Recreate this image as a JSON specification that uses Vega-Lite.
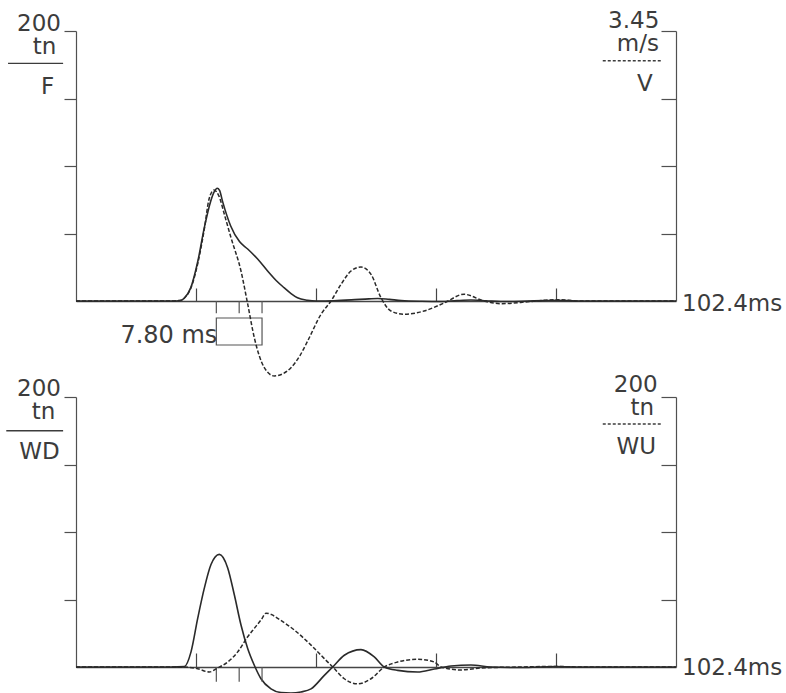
{
  "$schema": "https://vega.github.io/schema/vega-lite/v6.json",
  "background": "white",
  "padding": {"left": 5, "top": 10, "right": 0, "bottom": 0},
  "config": {"view": {"stroke": null}, "font": "DejaVu Sans"},
  "datasets": {
    "force": [
      {"t": 0, "F": 0}, {"t": 16.2, "F": 0}, {"t": 17.9, "F": 0.4}, {"t": 18.5, "F": 2.2}, {"t": 19.6, "F": 9.9},
      {"t": 20.8, "F": 29.6}, {"t": 21.9, "F": 54.3}, {"t": 23.0, "F": 74.1}, {"t": 23.6, "F": 81}, {"t": 24.1, "F": 83.5},
      {"t": 24.5, "F": 82}, {"t": 25.0, "F": 74}, {"t": 26.4, "F": 55.6}, {"t": 27.9, "F": 44}, {"t": 29.3, "F": 38.5},
      {"t": 31.0, "F": 31.1}, {"t": 32.7, "F": 22.2}, {"t": 34.2, "F": 15}, {"t": 35.5, "F": 9.9}, {"t": 36.7, "F": 5.5},
      {"t": 37.8, "F": 2.4}, {"t": 39.5, "F": 0.6}, {"t": 41, "F": 0}, {"t": 44, "F": 0.2}, {"t": 47, "F": 0.8},
      {"t": 50, "F": 1.6}, {"t": 51.5, "F": 1.9}, {"t": 53.5, "F": 1.2}, {"t": 55.5, "F": 0.4}, {"t": 59, "F": -0.2},
      {"t": 62.3, "F": -0.4}, {"t": 65, "F": 0.3}, {"t": 67.4, "F": 0.7}, {"t": 70, "F": 0.2}, {"t": 72.5, "F": -0.4},
      {"t": 76, "F": -0.2}, {"t": 80, "F": 0.3}, {"t": 82, "F": 0.5}, {"t": 86, "F": 0}, {"t": 102.4, "F": 0}
    ],
    "velocity": [
      {"t": 0, "V": 0}, {"t": 16.2, "V": 0}, {"t": 17.9, "V": 0.01}, {"t": 18.5, "V": 0.038}, {"t": 19.6, "V": 0.166},
      {"t": 20.8, "V": 0.486}, {"t": 21.9, "V": 0.92}, {"t": 22.7, "V": 1.30}, {"t": 23.55, "V": 1.418}, {"t": 24.4, "V": 1.34},
      {"t": 25.4, "V": 1.086}, {"t": 26.45, "V": 0.809}, {"t": 28.16, "V": 0.383}, {"t": 29.3, "V": -0.038}, {"t": 30.43, "V": -0.469},
      {"t": 32.14, "V": -0.852}, {"t": 33.84, "V": -0.958}, {"t": 35.3, "V": -0.93}, {"t": 36.69, "V": -0.852}, {"t": 38.2, "V": -0.70},
      {"t": 39.54, "V": -0.511}, {"t": 41.81, "V": -0.170}, {"t": 43.52, "V": 0}, {"t": 45.23, "V": 0.213}, {"t": 46.93, "V": 0.383},
      {"t": 48.64, "V": 0.434}, {"t": 50.35, "V": 0.341}, {"t": 52.05, "V": 0.042}, {"t": 53.76, "V": -0.128}, {"t": 56.03, "V": -0.170},
      {"t": 59.39, "V": -0.128}, {"t": 62.81, "V": -0.026}, {"t": 66.22, "V": 0.086}, {"t": 69.63, "V": 0}, {"t": 72.53, "V": -0.034},
      {"t": 77.65, "V": -0.006}, {"t": 81.92, "V": 0.017}, {"t": 86.19, "V": 0}, {"t": 102.4, "V": 0}
    ],
    "wavedown": [
      {"t": 0, "WD": 0}, {"t": 16.2, "WD": 0}, {"t": 18.5, "WD": 0.3}, {"t": 19.63, "WD": 11.2}, {"t": 20.77, "WD": 36.0},
      {"t": 21.9, "WD": 58.4}, {"t": 23.04, "WD": 75.9}, {"t": 24.46, "WD": 83.4}, {"t": 25.89, "WD": 73.4}, {"t": 27.02, "WD": 53.5},
      {"t": 28.16, "WD": 31.1}, {"t": 29.3, "WD": 13.7}, {"t": 30.43, "WD": 1.3}, {"t": 31.57, "WD": -8.7}, {"t": 33.28, "WD": -16.2},
      {"t": 35.0, "WD": -19.0}, {"t": 36.69, "WD": -19.3}, {"t": 38.4, "WD": -18.5}, {"t": 40.11, "WD": -16.2}, {"t": 42.38, "WD": -6.2},
      {"t": 43.81, "WD": 0}, {"t": 45.79, "WD": 8.7}, {"t": 48.64, "WD": 12.9}, {"t": 50.91, "WD": 7.5}, {"t": 52.62, "WD": 0},
      {"t": 54.9, "WD": -2.5}, {"t": 58.32, "WD": -3.7}, {"t": 61.15, "WD": -1.5}, {"t": 64.0, "WD": 0.7}, {"t": 67.4, "WD": 1.5},
      {"t": 70.8, "WD": 0}, {"t": 75.9, "WD": -0.4}, {"t": 81.9, "WD": 0.4}, {"t": 86, "WD": 0}, {"t": 102.4, "WD": 0}
    ],
    "waveup": [
      {"t": 0, "WU": 0}, {"t": 16.2, "WU": 0}, {"t": 18.48, "WU": 0}, {"t": 20.77, "WU": -1.3}, {"t": 22.75, "WU": -3.7},
      {"t": 24.18, "WU": -0.7}, {"t": 25.89, "WU": 3.7}, {"t": 27.6, "WU": 11.2}, {"t": 29.3, "WU": 22.4}, {"t": 30.43, "WU": 28.6},
      {"t": 31.6, "WU": 35}, {"t": 32.43, "WU": 39.8}, {"t": 33.4, "WU": 38.8}, {"t": 34.42, "WU": 36.0}, {"t": 37.26, "WU": 27.4},
      {"t": 40.11, "WU": 16.2}, {"t": 42.38, "WU": 6.2}, {"t": 43.81, "WU": 0}, {"t": 45.79, "WU": -8.7}, {"t": 48.08, "WU": -12.5},
      {"t": 50.35, "WU": -8.7}, {"t": 52.62, "WU": 0}, {"t": 54.9, "WU": 3.7}, {"t": 58.32, "WU": 5.7}, {"t": 61.15, "WU": 3.7},
      {"t": 62.29, "WU": 0}, {"t": 65.7, "WU": -2.2}, {"t": 69.1, "WU": -0.7}, {"t": 75.9, "WU": 0}, {"t": 81.9, "WU": 0.4},
      {"t": 86, "WU": 0}, {"t": 102.4, "WU": 0}
    ],
    "markers": [{"t": 23.95}, {"t": 27.85}, {"t": 31.75}]
  },
  "bounds": "flush",
  "spacing": 96,
  "vconcat": [
    {
      "width": 600,
      "height": 270,
      "layer": [
        {
          "layer": [
            {
              "data": {"name": "force"},
              "mark": {"type": "line", "color": "#2a2a2a", "strokeWidth": 1.6, "interpolate": "monotone"},
              "encoding": {
                "x": {"field": "t", "type": "quantitative", "scale": {"domain": [0, 102.4], "nice": false},
                  "axis": {"orient": "bottom", "values": [20.48, 40.96, 61.44, 81.92], "labels": false, "tickSize": -13, "title": null, "grid": false, "domainColor": "#454545", "tickColor": "#454545", "domainWidth": 1.3, "tickWidth": 1.2}},
                "y": {"field": "F", "type": "quantitative", "scale": {"domain": [0, 200], "nice": false, "zero": false},
                  "axis": {"orient": "left", "values": [50, 100, 150, 200], "labels": false, "tickSize": 12, "title": null, "grid": false, "domainColor": "#505050", "tickColor": "#505050", "domainWidth": 1.2, "tickWidth": 1.2}}
              }
            },
            {
              "data": {"name": "markers"},
              "mark": {"type": "rule", "color": "#555555", "strokeWidth": 1.2},
              "encoding": {"x": {"field": "t", "type": "quantitative"}, "y": {"datum": 0}, "y2": {"datum": -9}}
            },
            {
              "data": {"values": [{}]},
              "mark": {"type": "rect", "fillOpacity": 0, "fill": "white", "stroke": "#555555", "strokeWidth": 1.2},
              "encoding": {"x": {"datum": 23.95}, "x2": {"datum": 31.75}, "y": {"datum": -12.6}, "y2": {"datum": -32.6}}
            },
            {
              "data": {"values": [{}]},
              "mark": {"type": "text", "text": "7.80 ms", "align": "right", "baseline": "alphabetic", "dx": 1, "fontSize": 24, "color": "#3c3c3c"},
              "encoding": {"x": {"datum": 23.95}, "y": {"datum": -31.4}}
            },
            {
              "data": {"values": [{}]},
              "mark": {"type": "text", "text": "102.4ms", "align": "left", "baseline": "alphabetic", "dx": 6, "dy": 10, "fontSize": 23, "color": "#3c3c3c"},
              "encoding": {"x": {"datum": 102.4}, "y": {"datum": 0}}
            },
            {
              "data": {"values": [{}]},
              "mark": {"type": "text", "text": "200", "align": "right", "baseline": "alphabetic", "dx": -15, "fontSize": 23, "color": "#3c3c3c"},
              "encoding": {"x": {"datum": 0}, "y": {"datum": 200}}
            },
            {
              "data": {"values": [{}]},
              "mark": {"type": "text", "text": "tn", "align": "center", "baseline": "alphabetic", "dx": -31.5, "fontSize": 23, "color": "#3c3c3c"},
              "encoding": {"x": {"datum": 0}, "y": {"datum": 183}}
            },
            {
              "data": {"values": [{}]},
              "mark": {"type": "rule", "color": "#3c3c3c", "strokeWidth": 1.4},
              "encoding": {"x": {"datum": -11.6}, "x2": {"datum": -2.2}, "y": {"datum": 176}}
            },
            {
              "data": {"values": [{}]},
              "mark": {"type": "text", "text": "F", "align": "center", "baseline": "alphabetic", "dx": -28.5, "fontSize": 23, "color": "#3c3c3c"},
              "encoding": {"x": {"datum": 0}, "y": {"datum": 153}}
            },
            {
              "data": {"values": [{}]},
              "mark": {"type": "text", "text": "3.45", "align": "right", "baseline": "alphabetic", "dx": -16.7, "fontSize": 23, "color": "#3c3c3c"},
              "encoding": {"x": {"datum": 102.4}, "y": {"datum": 202}}
            },
            {
              "data": {"values": [{}]},
              "mark": {"type": "text", "text": "m/s", "align": "right", "baseline": "alphabetic", "dx": -17, "fontSize": 23, "color": "#3c3c3c"},
              "encoding": {"x": {"datum": 102.4}, "y": {"datum": 185}}
            },
            {
              "data": {"values": [{}]},
              "mark": {"type": "rule", "color": "#3c3c3c", "strokeWidth": 1.4, "strokeDash": [3, 2]},
              "encoding": {"x": {"datum": 89.9}, "x2": {"datum": 99.8}, "y": {"datum": 178}}
            },
            {
              "data": {"values": [{}]},
              "mark": {"type": "text", "text": "V", "align": "right", "baseline": "alphabetic", "dx": -23.3, "fontSize": 23, "color": "#3c3c3c"},
              "encoding": {"x": {"datum": 102.4}, "y": {"datum": 155.5}}
            }
          ]
        },
        {
          "data": {"name": "velocity"},
          "mark": {"type": "line", "color": "#2a2a2a", "strokeWidth": 1.5, "strokeDash": [4, 2], "interpolate": "monotone"},
          "encoding": {
            "x": {"field": "t", "type": "quantitative"},
            "y": {"field": "V", "type": "quantitative", "scale": {"domain": [0, 3.45], "nice": false, "zero": false},
              "axis": {"orient": "right", "values": [0.8625, 1.725, 2.5875, 3.45], "labels": false, "tickSize": -15, "title": null, "grid": false, "domainColor": "#505050", "tickColor": "#505050", "domainWidth": 1.2, "tickWidth": 1.2}}
          }
        }
      ],
      "resolve": {"scale": {"y": "independent"}}
    },
    {
      "width": 600,
      "height": 270,
      "layer": [
        {
          "layer": [
            {
              "data": {"name": "wavedown"},
              "mark": {"type": "line", "color": "#2a2a2a", "strokeWidth": 1.6, "interpolate": "monotone"},
              "encoding": {
                "x": {"field": "t", "type": "quantitative", "scale": {"domain": [0, 102.4], "nice": false},
                  "axis": {"orient": "bottom", "values": [20.48, 40.96, 61.44, 81.92], "labels": false, "tickSize": -14, "title": null, "grid": false, "domainColor": "#454545", "tickColor": "#454545", "domainWidth": 1.3, "tickWidth": 1.2}},
                "y": {"field": "WD", "type": "quantitative", "scale": {"domain": [0, 200], "nice": false, "zero": false},
                  "axis": {"orient": "left", "values": [50, 100, 150, 200], "labels": false, "tickSize": 12, "title": null, "grid": false, "domainColor": "#505050", "tickColor": "#505050", "domainWidth": 1.2, "tickWidth": 1.2}}
              }
            },
            {
              "data": {"name": "markers"},
              "mark": {"type": "rule", "color": "#555555", "strokeWidth": 1.2},
              "encoding": {"x": {"field": "t", "type": "quantitative"}, "y": {"datum": 0}, "y2": {"datum": -11}}
            },
            {
              "data": {"values": [{}]},
              "mark": {"type": "text", "text": "102.4ms", "align": "left", "baseline": "alphabetic", "dx": 6, "dy": 8, "fontSize": 23, "color": "#3c3c3c"},
              "encoding": {"x": {"datum": 102.4}, "y": {"datum": 0}}
            },
            {
              "data": {"values": [{}]},
              "mark": {"type": "text", "text": "200", "align": "right", "baseline": "alphabetic", "dx": -15, "fontSize": 23, "color": "#3c3c3c"},
              "encoding": {"x": {"datum": 0}, "y": {"datum": 201}}
            },
            {
              "data": {"values": [{}]},
              "mark": {"type": "text", "text": "tn", "align": "center", "baseline": "alphabetic", "dx": -32.5, "fontSize": 23, "color": "#3c3c3c"},
              "encoding": {"x": {"datum": 0}, "y": {"datum": 184}}
            },
            {
              "data": {"values": [{}]},
              "mark": {"type": "rule", "color": "#3c3c3c", "strokeWidth": 1.4},
              "encoding": {"x": {"datum": -11.9}, "x2": {"datum": -2.2}, "y": {"datum": 175}}
            },
            {
              "data": {"values": [{}]},
              "mark": {"type": "text", "text": "WD", "align": "center", "baseline": "alphabetic", "dx": -36.5, "fontSize": 23, "color": "#3c3c3c"},
              "encoding": {"x": {"datum": 0}, "y": {"datum": 154}}
            },
            {
              "data": {"values": [{}]},
              "mark": {"type": "text", "text": "200", "align": "right", "baseline": "alphabetic", "dx": -18.3, "fontSize": 23, "color": "#3c3c3c"},
              "encoding": {"x": {"datum": 102.4}, "y": {"datum": 204}}
            },
            {
              "data": {"values": [{}]},
              "mark": {"type": "text", "text": "tn", "align": "right", "baseline": "alphabetic", "dx": -22, "fontSize": 23, "color": "#3c3c3c"},
              "encoding": {"x": {"datum": 102.4}, "y": {"datum": 187}}
            },
            {
              "data": {"values": [{}]},
              "mark": {"type": "rule", "color": "#3c3c3c", "strokeWidth": 1.4, "strokeDash": [3, 2]},
              "encoding": {"x": {"datum": 89.9}, "x2": {"datum": 99.8}, "y": {"datum": 180}}
            },
            {
              "data": {"values": [{}]},
              "mark": {"type": "text", "text": "WU", "align": "right", "baseline": "alphabetic", "dx": -20, "fontSize": 23, "color": "#3c3c3c"},
              "encoding": {"x": {"datum": 102.4}, "y": {"datum": 158}}
            }
          ]
        },
        {
          "data": {"name": "waveup"},
          "mark": {"type": "line", "color": "#2a2a2a", "strokeWidth": 1.5, "strokeDash": [4, 2], "interpolate": "monotone"},
          "encoding": {
            "x": {"field": "t", "type": "quantitative"},
            "y": {"field": "WU", "type": "quantitative",
              "axis": {"orient": "right", "values": [50, 100, 150, 200], "labels": false, "tickSize": -15, "title": null, "grid": false, "domainColor": "#505050", "tickColor": "#505050", "domainWidth": 1.2, "tickWidth": 1.2}}
          }
        }
      ],
      "resolve": {"axis": {"y": "independent"}}
    }
  ]
}
